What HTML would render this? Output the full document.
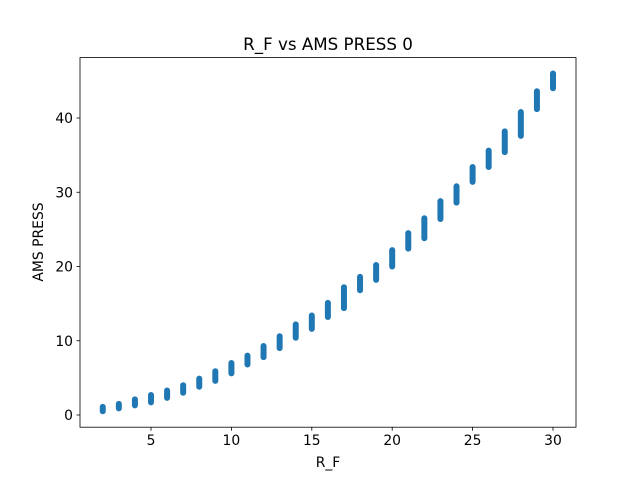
<!DOCTYPE html>
<html><head><meta charset="utf-8"><style>
body{margin:0;background:#fff;}
svg text{font-family:"DejaVu Sans","Liberation Sans",sans-serif;fill:#000;}
</style></head><body>
<svg width="640" height="480">
<rect width="640" height="480" fill="#fff"/>
<g id="marks"></g>
<rect x="80" y="57.6" width="496" height="369.6" fill="none" stroke="#000" stroke-width="0.8"/>
<g id="xt"></g>
<g id="yt"></g>
<text x="328" y="50" font-size="16.7" text-anchor="middle">R_F vs AMS PRESS 0</text>
<text x="328" y="467" font-size="13.9" text-anchor="middle">R_F</text>
<text x="0" y="0" font-size="13.9" text-anchor="middle" transform="translate(43,242) rotate(-90)">AMS PRESS</text>
</svg>
<script>
const xs=[2,3,4,5,6,7,8,9,10,11,12,13,14,15,16,17,18,19,20,21,22,23,24,25,26,27,28,29,30];
const yMin=[0.5,0.9,1.3,1.7,2.3,3.0,3.8,4.6,5.6,6.8,7.8,9.0,10.4,11.6,13.2,14.4,16.8,18.2,20.0,22.4,23.8,26.4,28.6,31.4,33.4,35.4,37.6,41.2,44.0];
const yMax=[1.1,1.5,2.1,2.7,3.3,4.0,4.9,5.9,7.0,8.0,9.3,10.6,12.2,13.4,15.1,17.2,18.6,20.2,22.2,24.5,26.5,28.8,30.8,33.4,35.6,38.2,40.8,43.6,46.0];
const xTicks=[5,10,15,20,25,30];
const yTicks=[0,10,20,30,40];
const X=v=>151+(v-5)*16.08;
const Y=v=>415-v*7.425;
const NS="http://www.w3.org/2000/svg";
const marks=document.getElementById('marks');
for(let i=0;i<xs.length;i++){
  const l=document.createElementNS(NS,'line');
  l.setAttribute('x1',X(xs[i]));l.setAttribute('x2',X(xs[i]));
  l.setAttribute('y1',Y(yMin[i]));l.setAttribute('y2',Y(yMax[i]));
  l.setAttribute('stroke','#1f77b4');l.setAttribute('stroke-width','6');l.setAttribute('stroke-linecap','round');
  
  
  marks.appendChild(l);
}
const xt=document.getElementById('xt');
xTicks.forEach(v=>{
  const t=document.createElementNS(NS,'line');
  t.setAttribute('x1',X(v));t.setAttribute('x2',X(v));t.setAttribute('y1',427.2);t.setAttribute('y2',430.7);t.setAttribute('stroke','#000');t.setAttribute('stroke-width','0.8');
  
  
  xt.appendChild(t);
  const s=document.createElementNS(NS,'text');
  s.setAttribute('x',X(v));s.setAttribute('y',445);s.setAttribute('font-size','13.9');s.setAttribute('text-anchor','middle');s.textContent=v;
  
  
  xt.appendChild(s);
});
const yt=document.getElementById('yt');
yTicks.forEach(v=>{
  const t=document.createElementNS(NS,'line');
  t.setAttribute('x1',76.5);t.setAttribute('x2',80);t.setAttribute('y1',Y(v));t.setAttribute('y2',Y(v));t.setAttribute('stroke','#000');t.setAttribute('stroke-width','0.8');
  
  
  yt.appendChild(t);
  const s=document.createElementNS(NS,'text');
  s.setAttribute('x',73);s.setAttribute('y',Y(v)+5);s.setAttribute('font-size','13.9');s.setAttribute('text-anchor','end');s.textContent=v;
  
  
  yt.appendChild(s);
});
</script>
</body></html>
